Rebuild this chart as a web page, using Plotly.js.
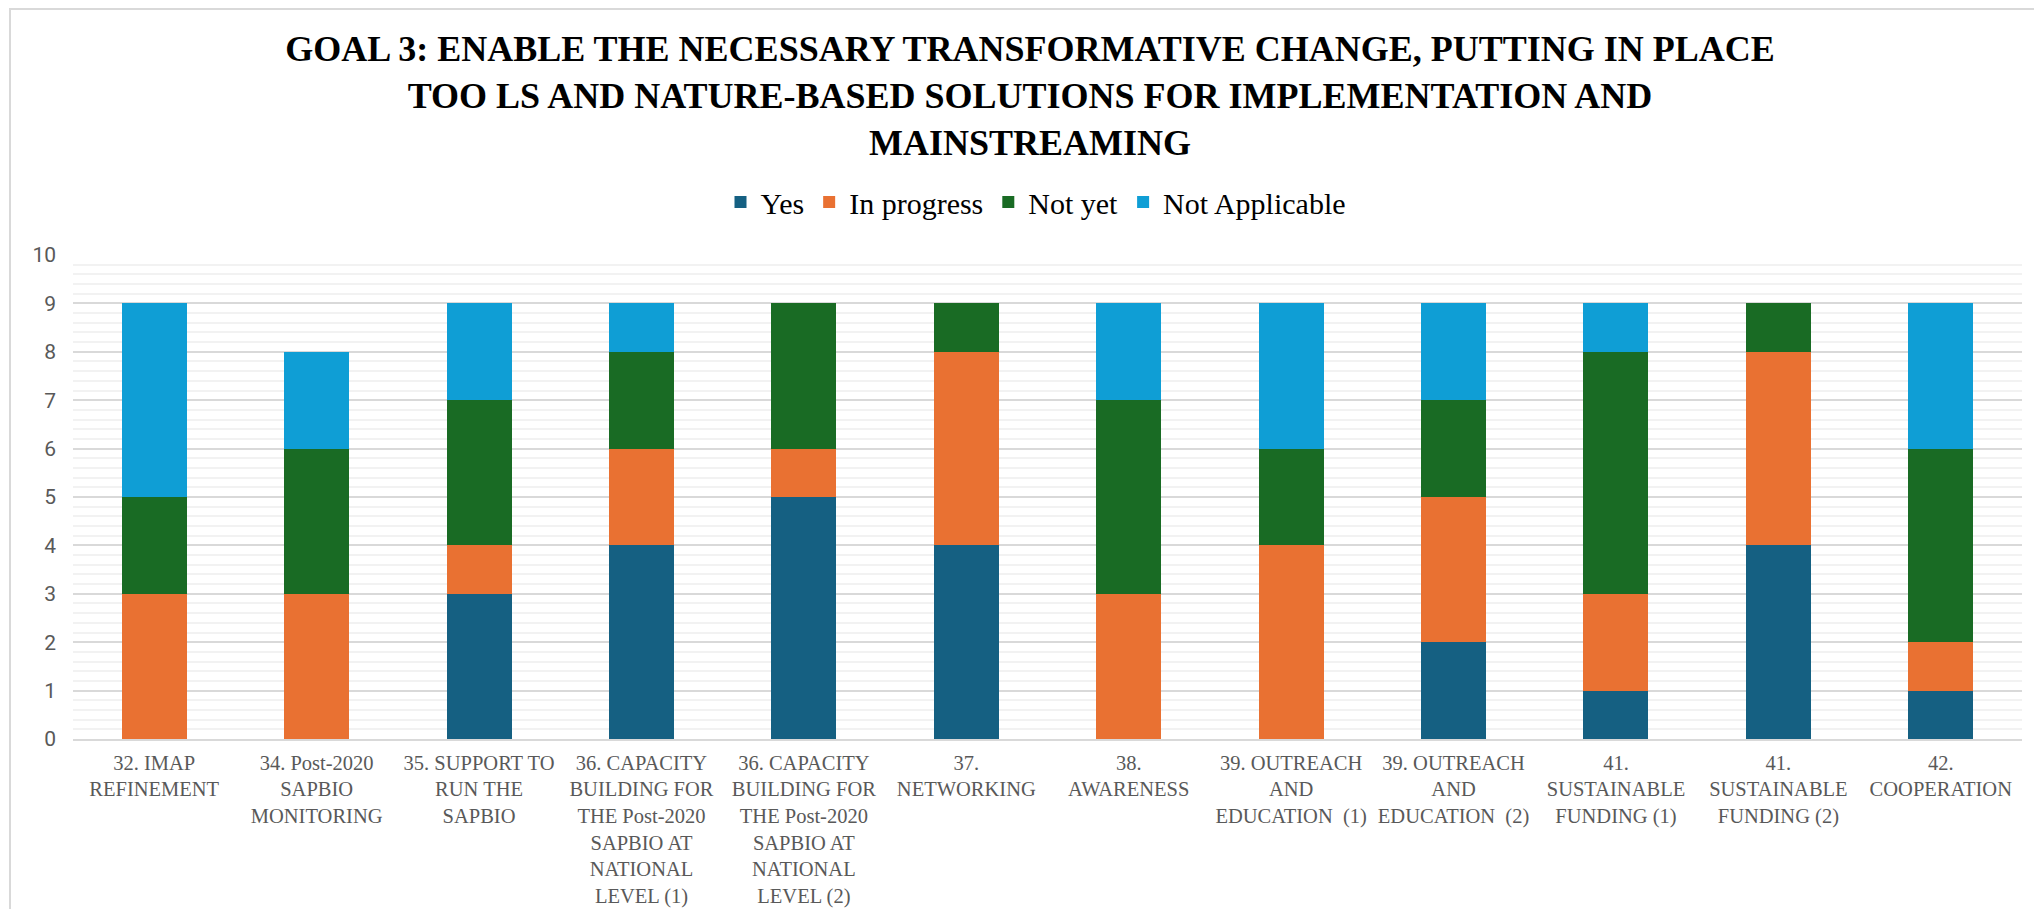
<!DOCTYPE html>
<html>
<head>
<meta charset="utf-8">
<script src="https://cdn.plot.ly/plotly-3.0.1.min.js"></script>
<style>html,body{margin:0;padding:0;background:#fff;}#chart{width:2034px;height:909px;}</style>
</head>
<body>
<div id="chart"></div>
<script>
const categories = [
  "32. IMAP<br>REFINEMENT",
  "34. Post-2020<br>SAPBIO<br>MONITORING",
  "35. SUPPORT TO<br>RUN THE<br>SAPBIO",
  "36. CAPACITY<br>BUILDING FOR<br>THE Post-2020<br>SAPBIO AT<br>NATIONAL<br>LEVEL (1)",
  "36. CAPACITY<br>BUILDING FOR<br>THE Post-2020<br>SAPBIO AT<br>NATIONAL<br>LEVEL (2)",
  "37.<br>NETWORKING",
  "38.<br>AWARENESS",
  "39. OUTREACH<br>AND<br>EDUCATION  (1)",
  "39. OUTREACH<br>AND<br>EDUCATION  (2)",
  "41.<br>SUSTAINABLE<br>FUNDING (1)",
  "41.<br>SUSTAINABLE<br>FUNDING (2)",
  "42.<br>COOPERATION"
];
const yesValues        = [0, 0, 3, 4, 5, 4, 0, 0, 2, 1, 4, 1];
const inProgressValues = [3, 3, 1, 2, 1, 4, 3, 4, 3, 2, 4, 1];
const notYetValues     = [2, 3, 3, 2, 3, 1, 4, 2, 2, 5, 1, 4];
const notApplicable    = [4, 2, 2, 1, 0, 0, 2, 3, 2, 1, 0, 3];
const seriesNames = ["Yes", "In progress", "Not yet", "Not Applicable"];
const seriesColors = ["#156082", "#E97132", "#196B24", "#0F9ED5"];
const titleText = "<b>GOAL 3: ENABLE THE NECESSARY TRANSFORMATIVE CHANGE, PUTTING IN PLACE</b><br><b>TOO LS AND NATURE-BASED SOLUTIONS FOR IMPLEMENTATION AND</b><br><b>MAINSTREAMING</b>";

const allValues = [yesValues, inProgressValues, notYetValues, notApplicable];
const data = allValues.map((vals, i) => ({
  type: "bar",
  name: seriesNames[i],
  x: categories,
  y: vals,
  marker: {color: seriesColors[i], line: {width: 0}},
  hoverinfo: "x+y+name"
}));

const L = 73, R = 12, T = 255, B = 170;
const W = 2034, H = 909;
const pw = W - L - R, ph = H - T - B;
const px = v => (v - L) / pw;
const py = v => (H - B - v) / ph;
const serif = "'Liberation Serif', 'Times New Roman', serif";

const layout = {
  width: W, height: H,
  margin: {l: L, r: R, t: T, b: B, pad: 0},
  paper_bgcolor: "#ffffff",
  plot_bgcolor: "#ffffff",
  barmode: "stack",
  bargap: 0.6,
  title: {
    text: titleText,
    font: {family: serif, size: 36, color: "#000000"},
    x: px(1030), xref: "paper", xanchor: "center",
    y: 1 - 61 / H, yref: "container", yanchor: "top"
  },
  legend: {
    orientation: "h",
    x: px(1036), xanchor: "center",
    y: py(202), yanchor: "middle",
    font: {family: serif, size: 30, color: "#000000"},
    traceorder: "normal",
    itemwidth: 30
  },
  xaxis: {
    type: "category",
    tickfont: {family: serif, size: 20.5, color: "#595959"},
    tickangle: 0,
    showgrid: false,
    showline: true,
    linecolor: "#d9d9d9",
    linewidth: 2,
    ticks: "",
    ticklabelstandoff: 4,
    automargin: false,
    fixedrange: true
  },
  yaxis: {
    range: [0, 10],
    dtick: 1,
    tick0: 0,
    tickfont: {family: "Roboto, 'Noto Sans', sans-serif", size: 21, color: "#595959"},
    gridcolor: "#d9d9d9",
    gridwidth: 2,
    zeroline: false,
    showline: false,
    ticks: "",
    ticklabelstandoff: 16,
    minor: {dtick: 0.2, showgrid: true, gridcolor: "#f2f2f2", gridwidth: 2},
    automargin: false,
    fixedrange: true
  },
  shapes: [{
    type: "rect", xref: "paper", yref: "paper",
    x0: px(10), x1: px(2045), y0: py(920), y1: py(9),
    line: {color: "#d9d9d9", width: 2}, fillcolor: "rgba(0,0,0,0)", layer: "below"
  }],
  showlegend: true
};

Plotly.newPlot("chart", data, layout, {displayModeBar: false, staticPlot: true});
</script>
</body>
</html>
